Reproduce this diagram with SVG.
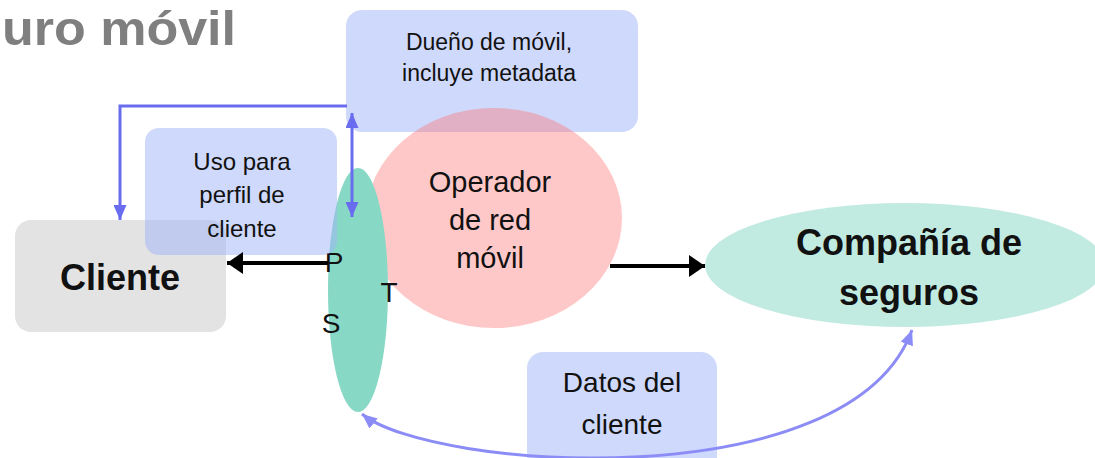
<svg xmlns="http://www.w3.org/2000/svg" width="1095" height="458" viewBox="0 0 1095 458">
<style>
.t{font-family:"Liberation Sans",Arial,sans-serif;fill:#111;text-anchor:middle}
.b{font-weight:bold}
.note{fill:#9fb4f7;fill-opacity:0.5}
.blue{fill:none;stroke:#6a6cf0;stroke-width:3}
.curve{fill:none;stroke:#8c8cf6;stroke-width:3}
.blk{fill:none;stroke:#000;stroke-width:4}
</style>
<defs>
<marker id="ab" markerUnits="userSpaceOnUse" viewBox="0 0 15 13" refX="15" refY="6.5" markerWidth="15" markerHeight="13" orient="auto-start-reverse"><path d="M0,0 L15,6.5 L0,13 z" fill="#6a6cf0"/></marker>
<marker id="ac" markerUnits="userSpaceOnUse" viewBox="0 0 15 13" refX="15" refY="6.5" markerWidth="15" markerHeight="13" orient="auto-start-reverse"><path d="M0,0 L15,6.5 L0,13 z" fill="#8c8cf6"/></marker>
<marker id="ak" markerUnits="userSpaceOnUse" viewBox="0 0 16 22" refX="16" refY="11" markerWidth="16" markerHeight="22" orient="auto"><path d="M0,0 L16,11 L0,22 z" fill="#000"/></marker>
</defs>
<rect width="1095" height="458" fill="#fff"/>
<text class="t b" x="2" y="45" font-size="49" textLength="234" lengthAdjust="spacingAndGlyphs" style="text-anchor:start;fill:#7f7f7f">uro móvil</text>

<g id="dueno">
<rect class="note" x="346" y="10" width="292" height="122" rx="16"/>
<text class="t" x="489" y="50" font-size="23">Dueño de móvil,</text>
<text class="t" x="489" y="81" font-size="23">incluye metadata</text>
</g>
<g id="operador">
<ellipse cx="494" cy="218" rx="128" ry="110" fill="#ff6e6e" fill-opacity="0.38"/>
<text class="t" x="490" y="192" font-size="29">Operador</text>
<text class="t" x="490" y="230" font-size="29">de red</text>
<text class="t" x="490" y="268" font-size="29">móvil</text>
</g>
<g id="cliente">
<rect x="15" y="220" width="211" height="112" rx="16" fill="#e3e3e3"/>
<text class="t b" x="120" y="290" font-size="36">Cliente</text>
</g>
<g id="pst">
<ellipse cx="358" cy="290" rx="30" ry="122" fill="#88d8c6"/>
<text class="t" x="334" y="272" font-size="28">P</text>
<text class="t" x="389" y="302" font-size="28">T</text>
<text class="t" x="331" y="333" font-size="28">S</text>
</g>
<g id="uso">
<rect class="note" x="145" y="128" width="192" height="127" rx="14"/>
<text class="t" x="242" y="170" font-size="24">Uso para</text>
<text class="t" x="242" y="203" font-size="24">perfil de</text>
<text class="t" x="242" y="237" font-size="24">cliente</text>
</g>
<g id="compania">
<ellipse cx="905" cy="265" rx="200" ry="62" fill="#c1eae1"/>
<text class="t b" x="909" y="255" font-size="36">Compañía de</text>
<text class="t b" x="909" y="305" font-size="36">seguros</text>
</g>
<g id="datos">
<rect class="note" x="527" y="352" width="190" height="120" rx="16"/>
<text class="t" x="622" y="392" font-size="28">Datos del</text>
<text class="t" x="622" y="434" font-size="28">cliente</text>
</g>

<g id="connectors">
<polyline class="blue" points="347,106 120,106 120,220" marker-end="url(#ab)"/>
<line class="blue" x1="352" y1="113" x2="352" y2="217" marker-start="url(#ab)" marker-end="url(#ab)"/>
<line class="blk" x1="328" y1="263" x2="227" y2="263" marker-end="url(#ak)"/>
<line class="blk" x1="610" y1="266" x2="705" y2="266" marker-end="url(#ak)"/>
<path class="curve" d="M362,414 C430,470 850,500 912,330" marker-start="url(#ac)" marker-end="url(#ac)"/>
</g>
</svg>
